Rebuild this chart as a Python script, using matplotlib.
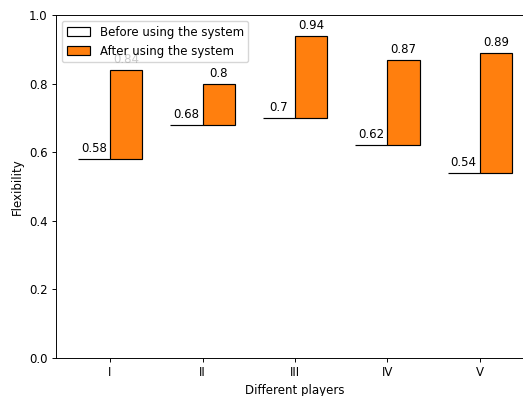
import matplotlib
matplotlib.use("Agg")
import matplotlib.pyplot as plt
import numpy as np

players = ["I", "II", "III", "IV", "V"]
before = [0.58, 0.68, 0.70, 0.62, 0.54]
after = [0.84, 0.80, 0.94, 0.87, 0.89]
before_labels = ["0.58", "0.68", "0.7", "0.62", "0.54"]
after_labels = ["0.84", "0.8", "0.94", "0.87", "0.89"]

s = 0.85
plt.rcParams.update({
    "font.size": 10 * s,
    "axes.linewidth": 0.8 * s,
    "xtick.major.width": 0.8 * s,
    "ytick.major.width": 0.8 * s,
    "xtick.major.size": 3.5 * s,
    "ytick.major.size": 3.5 * s,
    "xtick.major.pad": 3.5 * s,
    "ytick.major.pad": 3.5 * s,
    "axes.labelpad": 4.0 * s,
    "legend.fontsize": 10 * s,
})

fig = plt.figure(figsize=(5.23, 3.96), dpi=100)
ax = fig.add_axes([0.107, 0.096, 0.914, 0.866])
x = np.arange(len(players))
w = 0.35
b = np.array(before)
a = np.array(after)
ax.bar(x - w/2, np.zeros_like(b), bottom=b, width=w, color="white", edgecolor="black",
       linewidth=1 * s, label="Before using the system")
ax.bar(x + w/2, a - b, bottom=b, width=w, color="#ff7f0e", edgecolor="black",
       linewidth=1 * s, label="After using the system")
for i in range(len(players)):
    ax.text(x[i] - w/2, b[i] + 0.012, before_labels[i], ha="center", va="bottom")
    ax.text(x[i] + w/2, a[i] + 0.012, after_labels[i], ha="center", va="bottom")
ax.set_ylim(0, 1.0)
ax.set_xticks(x)
ax.set_xticklabels(players)
ax.set_xlabel("Different players")
ax.set_ylabel("Flexibility")
ax.legend(loc="upper left")
fig.savefig("out.png", dpi=100)
